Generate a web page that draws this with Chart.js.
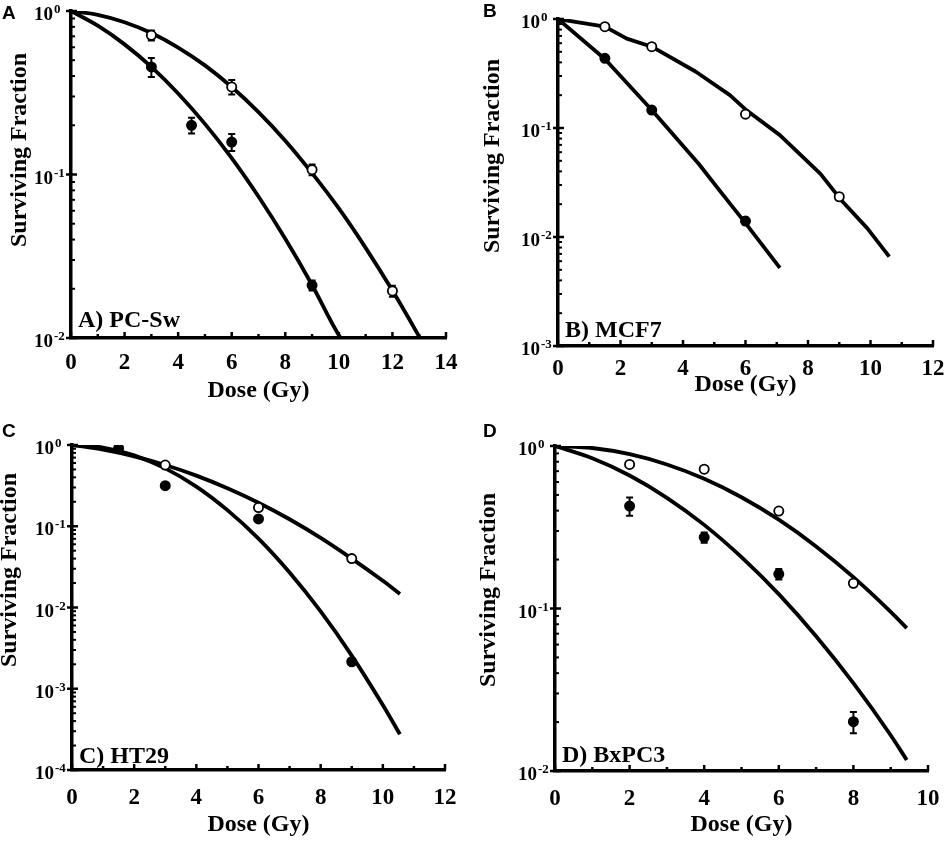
<!DOCTYPE html>
<html><head><meta charset="utf-8">
<script src="https://cdn.jsdelivr.net/npm/chart.js@4.4.1/dist/chart.umd.min.js"></script>
<style>
html,body{margin:0;padding:0;background:#fff;width:945px;height:843px;overflow:hidden}
canvas{position:absolute}
.lt{position:absolute;font:bold 19px "Liberation Sans",Arial,sans-serif;color:#000;line-height:1}
</style></head><body>
<canvas id="cA" width="472" height="421" style="left:0;top:0"></canvas>
<canvas id="cB" width="473" height="421" style="left:472px;top:0"></canvas>
<canvas id="cC" width="472" height="422" style="left:0;top:421px"></canvas>
<canvas id="cD" width="473" height="422" style="left:472px;top:421px"></canvas>
<div class="lt" style="left:2px;top:3px">A</div>
<div class="lt" style="left:483px;top:1px">B</div>
<div class="lt" style="left:2px;top:421px">C</div>
<div class="lt" style="left:483px;top:421px">D</div>
<script>
// ---------- Panel A: PC-Sw ----------
const aOpenDose = [3, 6, 9, 12];
const aOpenSF = [0.71, 0.343, 0.107, 0.0194];
const aOpenErr = [0.05, 0.035, 0.008, 0.0015];
const aFilledDose = [3, 4.5, 6, 9];
const aFilledSF = [0.455, 0.20, 0.158, 0.021];
const aFilledErr = [0.06, 0.022, 0.019, 0.0015];
const aCurveOpenDose = [0, 1, 2, 3, 4, 5, 6, 7, 8, 9, 10, 11, 12, 13, 13.03];
const aCurveOpenSF = [1, 0.948, 0.854, 0.733, 0.598, 0.465, 0.343, 0.241, 0.161, 0.102, 0.062, 0.0356, 0.0195, 0.0102, 0.0100];
const aCurveFilledDose = [0, 1, 2, 3, 4, 5, 6, 7, 8, 9, 10, 10.1];
const aCurveFilledSF = [1, 0.813, 0.625, 0.455, 0.313, 0.204, 0.126, 0.0733, 0.0404, 0.0211, 0.0104, 0.0099];

// ---------- Panel B: MCF7 ----------
const bOpenDose = [1.5, 3, 6, 9];
const bOpenSF = [0.85, 0.557, 0.134, 0.0234];
const bOpenErr = [0.02, 0.02, 0.008, 0.0015];
const bFilledDose = [1.5, 3, 6];
const bFilledSF = [0.436, 0.146, 0.014];
const bFilledErr = [0.02, 0.008, 0.001];
const bCurveOpenDose = [0, 1.5, 2.2, 3, 4.4, 5.5, 6.0, 7.1, 8.4, 9.05, 9.9, 10.6];
const bCurveOpenSF = [1, 0.85, 0.66, 0.557, 0.33, 0.20, 0.148, 0.086, 0.038, 0.022, 0.012, 0.0066];
const bCurveFilledDose = [0, 1.5, 3, 4.5, 5.25, 6, 7.1];
const bCurveFilledSF = [1, 0.43, 0.146, 0.047, 0.025, 0.0134, 0.0052];

// ---------- Panel C: HT29 ----------
const cOpenDose = [3, 6, 9];
const cOpenSF = [0.567, 0.17, 0.040];
const cOpenErr = [0, 0, 0];
const cFilledDose = [1.5, 3, 6, 9];
const cFilledSF = [0.91, 0.316, 0.123, 0.00215];
const cFilledErr = [0, 0, 0, 0];
const cCurveOpenDose = [0, 1, 2, 3, 4, 5, 6, 7, 8, 9, 10, 10.55];
const cCurveOpenSF = [1, 0.876, 0.725, 0.567, 0.42, 0.294, 0.195, 0.122, 0.072, 0.040, 0.0213, 0.0147];
const cCurveFilledDose = [0, 1, 2, 3, 4, 5, 6, 7, 8, 9, 10, 10.55];
const cCurveFilledSF = [1, 0.929, 0.745, 0.515, 0.308, 0.158, 0.0705, 0.027, 0.00895, 0.00256, 0.00063, 0.000275];

// ---------- Panel D: BxPC3 ----------
const dOpenDose = [2, 4, 6, 8];
const dOpenSF = [0.77, 0.72, 0.398, 0.143];
const dOpenErr = [0.02, 0.03, 0.015, 0.005];
const dFilledDose = [2, 4, 6, 8];
const dFilledSF = [0.427, 0.274, 0.163, 0.0201];
const dFilledErr = [0.055, 0.02, 0.012, 0.003];
const dCurveOpenDose = [0, 1, 2, 3, 4, 5, 6, 7, 8, 9, 9.43];
const dCurveOpenSF = [1, 0.972, 0.89, 0.77, 0.629, 0.484, 0.352, 0.241, 0.156, 0.0954, 0.0758];
const dCurveFilledDose = [0, 1, 2, 3, 4, 5, 6, 7, 8, 9, 9.43];
const dCurveFilledSF = [1, 0.84, 0.658, 0.48, 0.327, 0.207, 0.1225, 0.0675, 0.0347, 0.0166, 0.0117];

// tick / axis text
const xTitleText = 'Dose (Gy)';
const yTitleText = 'Surviving Fraction';
const panelLabels = ['A) PC-Sw', 'B) MCF7', 'C) HT29', 'D) BxPC3'];

const SERIF = '"Liberation Serif","Times New Roman",serif';
const zip = (xs, ys) => xs.map((x, i) => ({x: x, y: ys[i]}));

const deco = {
  id: 'deco',
  beforeDatasetsDraw(chart) {
    const ctx = chart.ctx, ys = chart.scales.y;
    ctx.save();
    ctx.strokeStyle = '#000'; ctx.lineWidth = 2;
    chart.data.datasets.forEach((ds, di) => {
      if (!ds.errs) return;
      const meta = chart.getDatasetMeta(di);
      ds.errs.forEach((e, i) => {
        if (!e) return;
        const px = meta.data[i].x;
        const v = ds.data[i].y;
        const y1 = ys.getPixelForValue(v + e), y2 = ys.getPixelForValue(Math.max(v - e, 1e-9));
        ctx.beginPath();
        ctx.moveTo(px, y1); ctx.lineTo(px, y2);
        ctx.moveTo(px - 3.5, y1); ctx.lineTo(px + 3.5, y1);
        ctx.moveTo(px - 3.5, y2); ctx.lineTo(px + 3.5, y2);
        ctx.stroke();
      });
    });
    ctx.restore();
  },
  afterDraw(chart, args, o) {
    const ctx = chart.ctx, xs = chart.scales.x, ys = chart.scales.y, ca = chart.chartArea;
    ctx.save();
    ctx.strokeStyle = '#000'; ctx.fillStyle = '#000'; ctx.lineWidth = 2.5;
    // inward x ticks
    for (let v = xs.min; v <= xs.max + 1e-9; v += 1) {
      const px = xs.getPixelForValue(v);
      const len = (Math.round(v) % 2 === 0) ? 6 : 4;
      ctx.beginPath(); ctx.moveTo(px, ca.bottom); ctx.lineTo(px, ca.bottom - len); ctx.stroke();
    }
    // log y ticks and labels
    const e0 = Math.round(Math.log10(ys.min)), e1 = Math.round(Math.log10(ys.max));
    for (let e = e0; e <= e1; e++) {
      const py = ys.getPixelForValue(Math.pow(10, e));
      ctx.lineWidth = 2.5;
      ctx.beginPath(); ctx.moveTo(ca.left - 5, py); ctx.lineTo(ca.left + 6, py); ctx.stroke();
      ctx.font = 'bold 19px ' + SERIF;
      ctx.textAlign = 'right'; ctx.textBaseline = 'alphabetic';
      const xr = ca.left - 18;
      ctx.fillText('10', xr, py + 9);
      ctx.font = 'bold 13px ' + SERIF;
      ctx.textAlign = 'left';
      ctx.fillText(String(e), xr + 1, py + 2);
      if (e < e1) {
        ctx.lineWidth = 2;
        for (let m = 2; m <= 9; m++) {
          const pm = ys.getPixelForValue(m * Math.pow(10, e));
          ctx.beginPath(); ctx.moveTo(ca.left, pm); ctx.lineTo(ca.left + 4, pm); ctx.stroke();
        }
      }
    }
    // y title
    ctx.save();
    ctx.translate(o.ytx, o.yty);
    ctx.rotate(-Math.PI / 2);
    ctx.font = 'bold 24px ' + SERIF;
    ctx.textAlign = 'center'; ctx.textBaseline = 'middle';
    ctx.fillText(yTitleText, 0, 0);
    ctx.restore();
    // panel annotation
    ctx.font = 'bold 24px ' + SERIF;
    ctx.textAlign = 'left'; ctx.textBaseline = 'alphabetic';
    ctx.fillText(o.label, ca.left + 7, ca.bottom - o.labOff);
    ctx.restore();
  }
};

function makeChart(id, p) {
  const cv = document.getElementById(id);
  const W = cv.width, H = cv.height;
  const pts = (d, s, e, fill) => ({
    data: zip(d, s), errs: e, showLine: false, order: 0,
    pointRadius: 4.6, pointBorderWidth: 1.8, pointBorderColor: '#000',
    pointBackgroundColor: fill, borderColor: '#000'
  });
  const curve = (d, s) => ({
    data: zip(d, s), order: 1, borderColor: '#000', borderWidth: 3.8,
    pointRadius: 0, fill: false, borderJoinStyle: 'round',
    tension: p.smooth ? 0.35 : 0, cubicInterpolationMode: p.smooth ? 'monotone' : 'default'
  });
  return new Chart(cv, {
    type: 'line',
    data: {
      datasets: [
        pts(p.od, p.os, p.oe, '#fff'),
        pts(p.fd, p.fs, p.fe, '#000'),
        curve(p.cod, p.cos),
        curve(p.cfd, p.cfs)
      ]
    },
    options: {
      responsive: false, animation: false, events: [],
      layout: {padding: {left: 0, top: p.T, right: W - p.R, bottom: 0}},
      plugins: {legend: {display: false}, tooltip: {enabled: false},
        deco: {label: p.label, ytx: p.ytx, yty: p.yty, labOff: p.labOff}},
      scales: {
        x: {
          type: 'linear', min: 0, max: p.xmax,
          ticks: {stepSize: 2, color: '#000', font: {family: SERIF, size: 23, weight: 'bold'}, padding: p.tickPad, maxRotation: 0},
          grid: {display: false, drawTicks: false},
          border: {display: true, color: '#000', width: 3.5},
          title: {display: true, text: xTitleText, color: '#000', font: {family: SERIF, size: 24, weight: 'bold'}, padding: {top: 0, bottom: p.titlePad}},
          afterFit: s => { s.height = H - p.B; s.paddingLeft = 0; s.paddingRight = 0; }
        },
        y: {
          type: 'logarithmic', min: p.ymin, max: 1,
          ticks: {display: false},
          grid: {display: false, drawTicks: false},
          border: {display: true, color: '#000', width: 3.5},
          afterFit: s => { s.width = p.L; s.paddingTop = 0; s.paddingBottom = 0; }
        }
      }
    },
    plugins: [deco]
  });
}

makeChart('cA', {od: aOpenDose, os: aOpenSF, oe: aOpenErr, fd: aFilledDose, fs: aFilledSF, fe: aFilledErr,
  cod: aCurveOpenDose, cos: aCurveOpenSF, cfd: aCurveFilledDose, cfs: aCurveFilledSF,
  xmax: 14, ymin: 0.01, L: 71, T: 11, R: 446, B: 338, tickPad: 11, titlePad: 15.6,
  ytx: 20, yty: 150, label: panelLabels[0], labOff: 11, smooth: true});
makeChart('cB', {od: bOpenDose, os: bOpenSF, oe: bOpenErr, fd: bFilledDose, fs: bFilledSF, fe: bFilledErr,
  cod: bCurveOpenDose, cos: bCurveOpenSF, cfd: bCurveFilledDose, cfs: bCurveFilledSF,
  xmax: 12, ymin: 0.001, L: 86, T: 19, R: 461, B: 346, tickPad: 9, titlePad: 21.6,
  ytx: 21, yty: 156, label: panelLabels[1], labOff: 9, smooth: false});
makeChart('cC', {od: cOpenDose, os: cOpenSF, oe: cOpenErr, fd: cFilledDose, fs: cFilledSF, fe: cFilledErr,
  cod: cCurveOpenDose, cos: cCurveOpenSF, cfd: cCurveFilledDose, cfs: cCurveFilledSF,
  xmax: 12, ymin: 0.0001, L: 72, T: 24, R: 445, B: 349, tickPad: 14, titlePad: 3.6,
  ytx: 10, yty: 149, label: panelLabels[2], labOff: 7, smooth: true});
makeChart('cD', {od: dOpenDose, os: dOpenSF, oe: dOpenErr, fd: dFilledDose, fs: dFilledSF, fe: dFilledErr,
  cod: dCurveOpenDose, cos: dCurveOpenSF, cfd: dCurveFilledDose, cfs: dCurveFilledSF,
  xmax: 10, ymin: 0.01, L: 83, T: 25, R: 456, B: 350, tickPad: 14, titlePad: 3.6,
  ytx: 17, yty: 169, label: panelLabels[3], labOff: 9, smooth: true});
</script>
</body></html>
